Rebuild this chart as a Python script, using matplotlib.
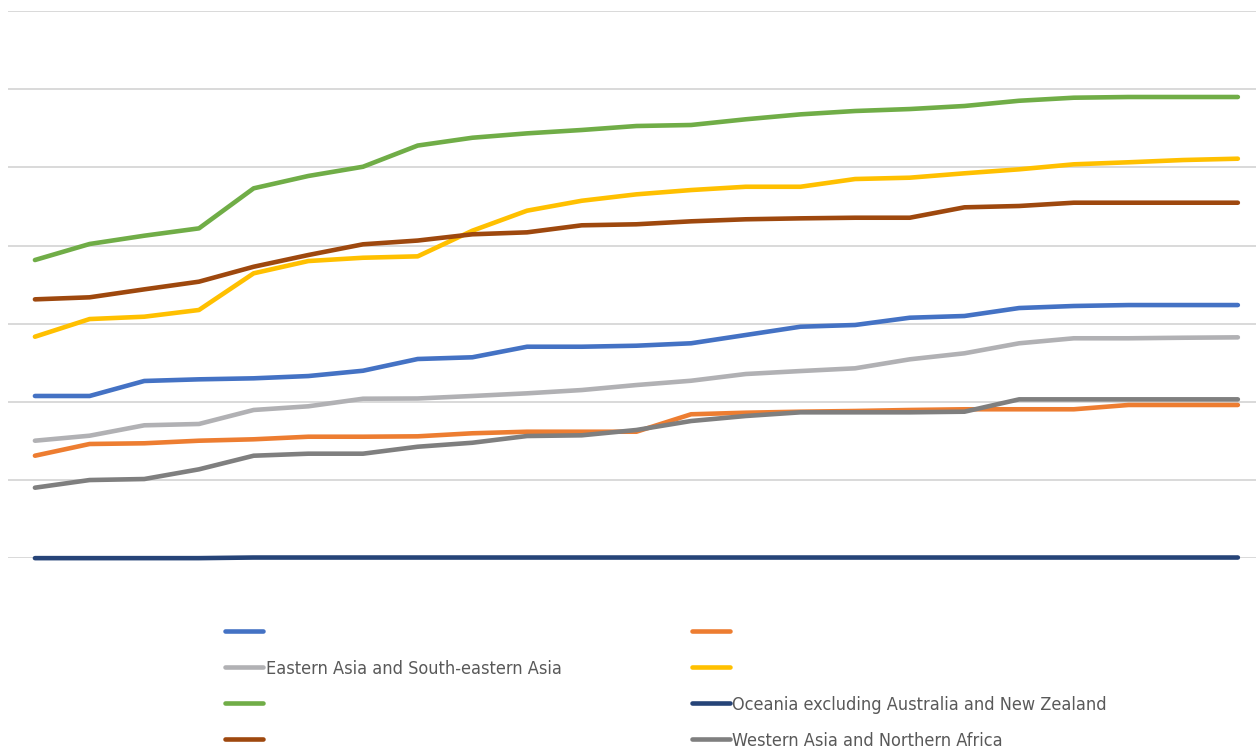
import numpy as np
import matplotlib.pyplot as plt
from matplotlib.lines import Line2D

# 23 evenly spaced periods, no axis labels shown
periods = np.arange(23)

series_blue = [20.76, 20.76, 22.68, 22.89, 23.02, 23.31, 23.99, 25.49, 25.71, 27.06, 27.06, 27.19,
               27.50, 28.56, 29.62, 29.84, 30.77, 30.99, 32.01, 32.27, 32.39, 32.39, 32.39]
series_orange = [13.12, 14.62, 14.71, 15.04, 15.22, 15.55, 15.55, 15.60, 15.99, 16.19, 16.19, 16.19,
                 18.42, 18.62, 18.75, 18.84, 18.97, 19.06, 19.06, 19.06, 19.61, 19.61, 19.61]
east_asia = [15.04, 15.68, 17.01, 17.18, 18.97, 19.44, 20.41, 20.44, 20.76, 21.10, 21.52, 22.16,
             22.71, 23.57, 23.95, 24.30, 25.45, 26.22, 27.50, 28.14, 28.14, 28.21, 28.26]
series_yellow = [28.34, 30.60, 30.90, 31.76, 36.45, 38.02, 38.44, 38.62, 41.90, 44.46, 45.73, 46.55,
                 47.10, 47.52, 47.52, 48.51, 48.68, 49.24, 49.75, 50.39, 50.65, 50.94, 51.11]
series_green = [38.15, 40.20, 41.26, 42.20, 47.32, 48.90, 50.08, 52.79, 53.79, 54.35, 54.78, 55.29,
                55.42, 56.15, 56.78, 57.21, 57.46, 57.85, 58.52, 58.91, 59.00, 59.00, 59.00]
oceania = [0.02, 0.02, 0.02, 0.02, 0.10, 0.10, 0.10, 0.10, 0.10, 0.10, 0.10, 0.10,
           0.10, 0.10, 0.10, 0.10, 0.10, 0.10, 0.10, 0.10, 0.10, 0.10, 0.10]
series_brown = [33.12, 33.38, 34.40, 35.38, 37.29, 38.79, 40.16, 40.64, 41.44, 41.69, 42.59, 42.72,
                43.10, 43.36, 43.48, 43.56, 43.56, 44.89, 45.06, 45.48, 45.48, 45.48, 45.48]
west_asia = [9.03, 10.01, 10.14, 11.38, 13.12, 13.38, 13.38, 14.27, 14.78, 15.64, 15.73, 16.41,
             17.56, 18.20, 18.67, 18.67, 18.67, 18.75, 20.33, 20.33, 20.33, 20.33, 20.33]

labels = ["", "", "Eastern Asia and South-eastern Asia", "", "",
          "Oceania excluding Australia and New Zealand", "", "Western Asia and Northern Africa"]
values = [series_blue, series_orange, east_asia, series_yellow, series_green,
          oceania, series_brown, west_asia]
colors = ["#4472C4", "#ED7D31", "#B1B1B4", "#FFC000", "#70AD47",
          "#264478", "#9E480E", "#7F7F7F"]

plt.rcParams["font.family"] = ["DejaVu Sans"]
plt.rcParams["font.stretch"] = "condensed"

fig = plt.figure(figsize=(12.56, 7.47), dpi=100)
ax = fig.add_axes([7.6 / 1256, 1 - 558.3 / 747, 1257.6 / 1256, 547.3 / 747])

handles = []
for vals, color, label in zip(values, colors, labels):
    ax.plot(periods, vals, color=color, lw=3.3, solid_capstyle="round",
            solid_joinstyle="round", clip_on=False, zorder=3)
    handles.append(Line2D([], [], color=color, lw=3.3, solid_capstyle="round"))

ax.set_xlim(-0.5, 22.5)
ax.set_ylim(0, 70)
ax.set_yticks(np.arange(0, 71, 10))
ax.grid(axis="y", color="#D9D9D9", lw=1.4)
ax.set_axisbelow(True)
ax.tick_params(left=False, bottom=False, labelleft=False, labelbottom=False)
for spine in ax.spines.values():
    spine.set_visible(False)

# two-column legend, filled row by row like the series order
order = [0, 2, 4, 6, 1, 3, 5, 7]
ax.legend([handles[i] for i in order], [labels[i] for i in order],
          ncol=2, loc="upper left", bbox_to_anchor=(225 / 1256, 1 - 623.5 / 747),
          bbox_transform=fig.transFigure, frameon=False, fontsize=13,
          handlelength=2.1, handletextpad=0.15, columnspacing=7.22,
          labelspacing=1.0, labelcolor="#595959", borderaxespad=0, borderpad=0)

fig.savefig("out.png", dpi=100)
